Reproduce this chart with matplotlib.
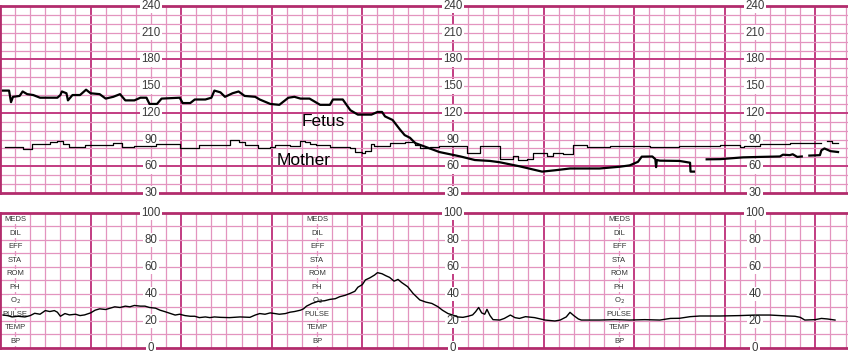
import numpy as np
import matplotlib.pyplot as plt

# fetal heart rate trace (time in s, bpm); nan = signal lost
fhr_t = [2, 6, 7.3, 8.6, 13, 15, 18, 22, 26.5, 38, 40, 41, 44, 45, 48, 53, 57, 60, 66, 70,
         75, 79.5, 83, 89, 93, 97, 99, 104, 107, 119, 121, 126, 129, 136, 140, 142, 146, 149, 154, 158,
         162, 169, 172, 179, 185, 191, 195, 199, 205, 212, 218.5, 220.5, 227, 232, 237, 246, 250, 253, 255, 260,
         265, 268, 271.5, 275, 281.5, 291, 305, 314.5, 324.5, 331, 344, 354, 359, 367.5, 377.5, 397, 410.5, 417, 422.5, 425,
         432, 434, 434.5, 435, 437, 450, 457, 457.3, 459.6, 460, 468, 477, 492, 503, 516.5, 518.5, 523, 525, 528, 531,
         532, 536, 543, 544, 546, 550, 555]
fhr_v = [145, 145, 132, 138, 139, 144, 141, 140, 137, 137, 140, 144, 142, 134, 140, 140, 146, 142, 141, 136,
         138, 141, 134, 134, 137, 137, 130, 130, 136, 137, 131, 131, 135, 135, 137, 145, 143, 138, 142, 144,
         139, 138, 135, 130, 129, 137, 138, 136, 136, 129, 129, 135, 135, 123, 118, 118, 121, 121, 116, 112,
         101, 95, 92, 86, 82, 76, 71, 67, 66, 64.5, 60, 56, 54, 55.5, 57.5, 57.5, 59.5, 61, 65, 70.8,
         71, 68, 59, 67, 66.3, 66, 64, 54, 54, np.nan, 67.8, 68, 70, 70.5, 71, 73, 72.5, 73.5, 70.5, 71,
         np.nan, 72, 72.5, 78, 80, 77, 76]

# maternal heart rate (step trace)
mhr_t = [3, 15, 21, 33, 38, 42, 46, 56, 75, 81, 89, 103, 119, 132, 152, 158, 162, 171, 179, 182,
         192, 199, 202, 205, 209, 218.5, 232, 235, 240, 242, 246, 248, 258, 268, 275, 278, 285, 291, 309, 318,
         331, 340, 343, 349, 353, 362, 366, 373, 379.5, 389, 404, 410.5, 430.5, 450, 477, 490, 493, 503, 523, 543,
         544, 548, 551, 555]
mhr_v = [82, 79, 85, 87, 88, 85, 82, 83.5, 86, 82, 83, 85, 81, 84, 89.5, 87, 84, 80, 82, 84,
         82.5, 88.5, 87, 85.5, 84, 82, 80, 76.5, 74.5, 77, 84.5, 83, 86.5, 87.5, 84, 80, 82, 83, 74.7, 82.7,
         67.8, 71, 67, 68.5, 74.7, 71, 74.7, 73.8, 84, 82, 83, 83, 81.5, 83, 84, 82, 83, 85, 86, 86,
         np.nan, 88, 86, 86]

# uterine activity
ua_t = [2, 5, 8, 12, 16.5, 20, 23, 26.5, 30, 33, 36, 38, 40, 43, 46, 50, 53, 56, 60, 63,
        66, 70, 73, 76, 79.5, 83, 86, 89, 93, 96, 99, 103, 106, 109, 113, 116, 119, 122.5, 126, 129,
        132, 136, 139, 142, 146, 152, 159, 165.5, 169, 172, 175.5, 179, 182, 185, 189, 192, 195, 199, 201, 203,
        206.6, 210.5, 215, 218.5, 222, 225, 228.5, 232, 235, 237, 240, 242, 245, 248, 250, 253, 255.6, 258, 261, 263.6,
        266, 270, 273.5, 278, 282, 286, 290, 293, 296.7, 300, 303, 306.6, 310, 313, 315, 317, 319, 321, 322.5, 324.5,
        326.5, 331, 334, 338, 341, 344, 348, 354, 361, 367.5, 371, 375, 377.5, 380, 383, 385, 397, 407, 417, 427,
        437, 444, 450, 457, 463.6, 477, 490, 500, 510, 520, 526.5, 530, 533, 540, 544, 548, 553]
ua_v = [24.4, 24, 23, 23.5, 23, 24, 25.7, 25, 27.7, 27, 27.7, 26.5, 23.5, 25.5, 24.5, 25, 24, 24.5, 26, 28,
        29, 28.5, 29.5, 30.5, 30, 31, 30.5, 31.5, 31, 31, 30, 29.5, 28, 27, 25.5, 24.4, 25, 24, 23.5, 23.5,
        22.5, 23, 22.5, 23, 22.7, 22.5, 23, 22.7, 24.4, 25.5, 25, 26, 25.5, 25, 25.5, 26.5, 27, 28, 29, 31,
        33, 34.5, 35, 36, 36.5, 38, 39, 40.5, 42, 45, 47, 50.4, 52, 54, 55.8, 55, 53.5, 52.3, 49.5, 50.8,
        48.5, 45.4, 40.5, 35.6, 34, 33, 30.6, 28, 25.5, 24.4, 23, 22.7, 23.5, 24.5, 26.9, 30, 26, 25, 28.6, 24,
        21, 20.7, 21.9, 24.4, 22.5, 21.9, 23.2, 22.5, 20.7, 20, 20.7, 23, 26.4, 24, 21.5, 20.7, 20.7, 21, 20.7, 21,
        20.7, 21.9, 22, 23.2, 23.7, 23.7, 24, 24.4, 24.4, 23.8, 23.5, 22.7, 20.7, 21, 21.9, 21.5, 20.7]

hr_labels = [240, 210, 180, 150, 120, 90, 60, 30]
ua_labels = [100, 80, 60, 40, 20, 0]
notes = ["MEDS", "DIL", "EFF", "STA", "ROM", "PH", "O$_2$", "PULSE", "TEMP", "BP"]
note_rows = [95, 85, 75, 65, 55, 45, 35, 25, 15, 5]
label_cols = [100, 300, 500]
note_cols = [10, 210, 410]

T_END = 561.6
thin_c = '#e394bf'
thick_c = '#c23c82'
edge_c = '#b22c6c'

plt.rcParams['font.family'] = ['Liberation Sans', 'DejaVu Sans']
fig = plt.figure(figsize=(8.48, 3.53), dpi=100)
ax1 = fig.add_axes([0, 0.4533, 1, 0.5297])
ax2 = fig.add_axes([0, 0.0142, 1, 0.3824])


def paper(ax, lo, hi, dark_rows):
    ax.set_xlim(0, T_END)
    ax.set_ylim(lo, hi)
    for t in np.arange(10, T_END, 10):
        major = round(t) % 60 == 0
        ax.axvline(t, color=thick_c if major else thin_c, lw=1.4 if major else 0.9, zorder=0)
    for v in np.arange(lo + 10, hi, 10):
        dark = v in dark_rows
        ax.axhline(v, color=thick_c if dark else thin_c, lw=1.4 if dark else 0.9, zorder=0)
    for s in ['top', 'bottom', 'left']:
        ax.spines[s].set_color(edge_c)
        ax.spines[s].set_linewidth(2)
    ax.spines['right'].set_visible(False)
    ax.set_xticks([])
    ax.set_yticks([])


paper(ax1, 30, 240, [60, 120, 180])
paper(ax2, 0, 100, [])

box = dict(boxstyle='square,pad=0.12', fc='white', ec='none')
for c in label_cols:
    for v in hr_labels:
        ax1.text(c, v, str(v), fontsize=8.3, color='#3a3a3a', ha='center', va='center', bbox=box, zorder=3)
    for v in ua_labels:
        ax2.text(c, v, str(v), fontsize=8.3, color='#3a3a3a', ha='center', va='center', bbox=box, zorder=3)
for c in note_cols:
    for n, r in zip(notes, note_rows):
        ax2.text(c, r, n, fontsize=5.5, color='#333333', ha='center', va='center', bbox=box, zorder=3)

ax1.plot(fhr_t, fhr_v, color='black', lw=1.6, zorder=5)
ax1.plot(mhr_t, mhr_v, color='black', lw=0.9, drawstyle='steps-post', zorder=5)
ax2.plot(ua_t, ua_v, color='black', lw=1.0, zorder=5)

ax1.text(200, 110, "Fetus", fontsize=12.5, ha='left', va='center', zorder=6)
ax1.text(183, 67, "Mother", fontsize=12.5, ha='left', va='center', zorder=6)

fig.savefig('out.png', dpi=100, facecolor='white')
